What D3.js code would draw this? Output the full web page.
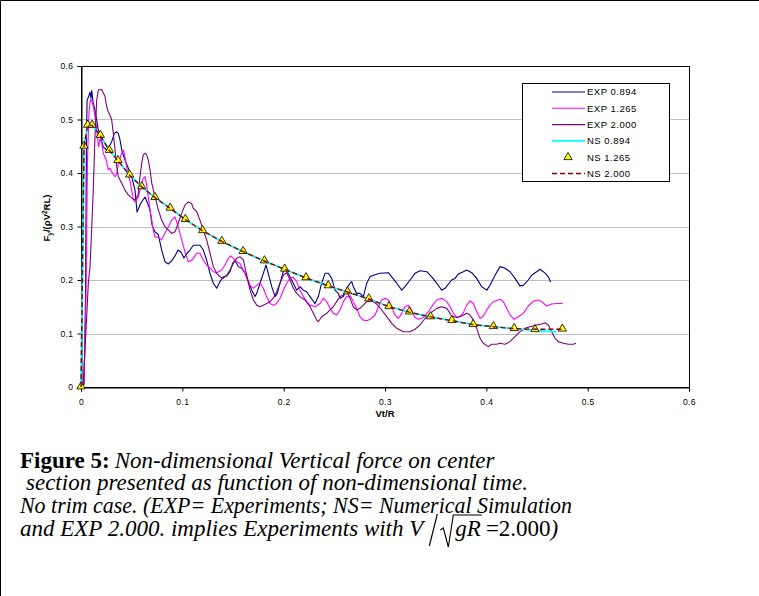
<!DOCTYPE html>
<html>
<head>
<meta charset="utf-8">
<script src="https://cdn.jsdelivr.net/npm/d3@7"></script>
<style>
body { margin: 0; background: #fff; }
svg { display: block; }
</style>
</head>
<body>
<script>
// values: [Vt/R, Fy/(rho V^2 R L)]
var xTicks = [0, 0.1, 0.2, 0.3, 0.4, 0.5, 0.6];
var yTicks = [0, 0.1, 0.2, 0.3, 0.4, 0.5, 0.6];
var gridTicks = [0.1, 0.2, 0.3, 0.4, 0.5];
var seriesNames = ["EXP 0.894", "EXP 1.265", "EXP 2.000", "NS 0.894", "NS 1.265", "NS 2.000"];

var exp0894 = [[0,0.002],[0.003,0.005],[0.0044,0.16],[0.0054,0.46],[0.006,0.536],[0.0074,0.542],[0.0089,0.551],[0.0099,0.540],[0.0106,0.554],[0.0121,0.530],[0.0138,0.518],[0.0155,0.499],[0.0171,0.480],[0.0197,0.465],[0.022,0.449],[0.0254,0.443],[0.0276,0.449],[0.0303,0.4585],[0.0329,0.474],[0.0352,0.477],[0.0368,0.474],[0.0385,0.462],[0.0402,0.443],[0.0434,0.424],[0.0467,0.409],[0.05,0.393],[0.0533,0.368],[0.0553,0.327],[0.0582,0.340],[0.0612,0.350],[0.0632,0.355],[0.0656,0.344],[0.0681,0.331],[0.0701,0.303],[0.073,0.29],[0.0763,0.285],[0.0796,0.256],[0.0829,0.234],[0.0862,0.23],[0.0895,0.236],[0.0928,0.245],[0.0957,0.256],[0.0987,0.252],[0.1016,0.241],[0.1046,0.25],[0.1076,0.256],[0.1108,0.265],[0.1174,0.265],[0.1207,0.256],[0.124,0.237],[0.1273,0.2125],[0.1306,0.194],[0.1339,0.1845],[0.1372,0.197],[0.1404,0.206],[0.1438,0.2075],[0.147,0.2155],[0.1497,0.231],[0.152,0.237],[0.1552,0.225],[0.1586,0.222],[0.1618,0.2125],[0.1651,0.197],[0.1685,0.181],[0.1717,0.169],[0.1734,0.175],[0.1767,0.194],[0.1799,0.2125],[0.1826,0.228],[0.1848,0.2125],[0.1882,0.1875],[0.1915,0.169],[0.1937,0.175],[0.1964,0.194],[0.1991,0.2125],[0.2013,0.222],[0.2036,0.2155],[0.2063,0.206],[0.2095,0.194],[0.2129,0.181],[0.2161,0.1875],[0.2194,0.181],[0.2227,0.178],[0.226,0.169],[0.2309,0.156],[0.2342,0.169],[0.2375,0.194],[0.2408,0.2125],[0.2441,0.2125],[0.2474,0.203],[0.2507,0.181],[0.2539,0.175],[0.2556,0.166],[0.2589,0.169],[0.2622,0.1845],[0.2655,0.194],[0.2672,0.197],[0.2687,0.1875],[0.2721,0.175],[0.2753,0.175],[0.2786,0.169],[0.282,0.194],[0.2852,0.206],[0.2885,0.209],[0.2951,0.2125],[0.3033,0.2136],[0.3066,0.206],[0.3116,0.194],[0.3165,0.181],[0.3197,0.1875],[0.3247,0.2],[0.3296,0.2125],[0.3346,0.2174],[0.3412,0.2155],[0.3461,0.206],[0.351,0.194],[0.356,0.181],[0.3592,0.1845],[0.3658,0.2],[0.3691,0.203],[0.3723,0.211],[0.3773,0.2155],[0.3806,0.2187],[0.3856,0.2136],[0.3905,0.203],[0.3954,0.1875],[0.4004,0.181],[0.4036,0.19],[0.4086,0.209],[0.4135,0.225],[0.4184,0.222],[0.4234,0.2155],[0.4283,0.203],[0.4332,0.189],[0.4365,0.19],[0.4414,0.2],[0.4448,0.209],[0.4497,0.2155],[0.453,0.22],[0.4562,0.2155],[0.4589,0.211],[0.4612,0.206],[0.4635,0.196]];

var exp1265 = [[0,0],[0.003,0.011],[0.0049,0.161],[0.0064,0.424],[0.0079,0.514],[0.0094,0.538],[0.0112,0.533],[0.0123,0.523],[0.0138,0.505],[0.0151,0.488],[0.0163,0.467],[0.0173,0.449],[0.0188,0.464],[0.0204,0.458],[0.022,0.437],[0.0237,0.43],[0.0254,0.421],[0.0269,0.406],[0.0286,0.409],[0.0303,0.402],[0.0319,0.398],[0.0336,0.393],[0.0352,0.398],[0.0368,0.417],[0.0385,0.428],[0.0402,0.437],[0.0417,0.443],[0.0434,0.43],[0.0451,0.411],[0.0467,0.396],[0.0484,0.385],[0.05,0.368],[0.0516,0.35],[0.0533,0.346],[0.0565,0.355],[0.0582,0.368],[0.0599,0.381],[0.0615,0.39],[0.0632,0.393],[0.0648,0.378],[0.0664,0.355],[0.0681,0.331],[0.0698,0.312],[0.0714,0.293],[0.073,0.28],[0.0763,0.28],[0.0796,0.275],[0.0829,0.288],[0.0862,0.299],[0.0895,0.312],[0.0928,0.318],[0.096,0.299],[0.0994,0.275],[0.1026,0.252],[0.1059,0.234],[0.1092,0.237],[0.1108,0.2405],[0.1141,0.25],[0.1174,0.25],[0.1207,0.237],[0.124,0.228],[0.1273,0.222],[0.1306,0.2155],[0.1339,0.2136],[0.1388,0.2187],[0.1421,0.228],[0.1454,0.2405],[0.1477,0.245],[0.1503,0.2405],[0.1536,0.234],[0.1569,0.231],[0.1602,0.2187],[0.1635,0.206],[0.1668,0.19],[0.1701,0.1845],[0.1734,0.19],[0.1767,0.195],[0.1799,0.1845],[0.1832,0.169],[0.1865,0.156],[0.1898,0.153],[0.1931,0.156],[0.1964,0.166],[0.1997,0.181],[0.2029,0.194],[0.2063,0.203],[0.2095,0.205],[0.2129,0.197],[0.2161,0.181],[0.2194,0.169],[0.2227,0.1595],[0.226,0.153],[0.2309,0.150],[0.2359,0.156],[0.2391,0.166],[0.2425,0.1595],[0.2457,0.147],[0.249,0.1377],[0.2523,0.1346],[0.2556,0.144],[0.2589,0.1595],[0.2622,0.169],[0.2661,0.17],[0.2687,0.1595],[0.2721,0.147],[0.2753,0.1314],[0.2786,0.125],[0.282,0.124],[0.2852,0.1265],[0.2902,0.1346],[0.2935,0.15],[0.2968,0.1626],[0.3,0.166],[0.3033,0.1626],[0.3066,0.15],[0.3099,0.1346],[0.3132,0.128],[0.3165,0.1377],[0.3197,0.15],[0.323,0.153],[0.3263,0.144],[0.3296,0.13],[0.3329,0.1265],[0.3379,0.13],[0.3428,0.1407],[0.3478,0.155],[0.3511,0.1626],[0.356,0.166],[0.361,0.1595],[0.3642,0.15],[0.3675,0.1377],[0.3708,0.13],[0.3741,0.1314],[0.3774,0.139],[0.3807,0.153],[0.3839,0.161],[0.3872,0.156],[0.3905,0.1407],[0.3938,0.128],[0.397,0.1327],[0.4004,0.144],[0.4036,0.153],[0.4069,0.1595],[0.4135,0.164],[0.4168,0.1595],[0.4201,0.147],[0.4234,0.1346],[0.4273,0.1265],[0.4316,0.1314],[0.4365,0.1377],[0.4414,0.1514],[0.4464,0.1607],[0.4513,0.1626],[0.4546,0.1595],[0.4596,0.1514],[0.4645,0.155],[0.4695,0.156],[0.4754,0.156]];

var exp2000 = [[0,0],[0.0022,0.007],[0.0039,0.069],[0.0056,0.131],[0.0072,0.194],[0.0089,0.225],[0.0105,0.293],[0.0121,0.368],[0.0138,0.468],[0.0155,0.536],[0.0171,0.555],[0.0204,0.556],[0.0237,0.543],[0.0254,0.524],[0.0269,0.5145],[0.0286,0.508],[0.0303,0.499],[0.0319,0.474],[0.0336,0.443],[0.0352,0.412],[0.0368,0.393],[0.0402,0.381],[0.0434,0.368],[0.0467,0.359],[0.05,0.353],[0.0533,0.3495],[0.0565,0.36],[0.0582,0.393],[0.0599,0.418],[0.0615,0.434],[0.0632,0.437],[0.0648,0.434],[0.0664,0.424],[0.0681,0.406],[0.0698,0.381],[0.073,0.356],[0.0763,0.331],[0.0796,0.312],[0.0829,0.2995],[0.0862,0.2935],[0.0895,0.287],[0.0928,0.29],[0.096,0.306],[0.0994,0.325],[0.1026,0.34],[0.1059,0.346],[0.1092,0.343],[0.1108,0.334],[0.1141,0.328],[0.1174,0.312],[0.1207,0.293],[0.124,0.275],[0.1273,0.25],[0.1306,0.225],[0.1339,0.2125],[0.1372,0.206],[0.1404,0.203],[0.1438,0.209],[0.147,0.2187],[0.1503,0.231],[0.1536,0.2405],[0.1569,0.2435],[0.1602,0.2375],[0.1635,0.209],[0.1668,0.181],[0.1701,0.1626],[0.1734,0.153],[0.1767,0.15],[0.1799,0.153],[0.1832,0.156],[0.1865,0.1595],[0.1898,0.166],[0.1931,0.178],[0.1964,0.194],[0.1997,0.209],[0.2029,0.2136],[0.2063,0.2],[0.2095,0.1845],[0.2129,0.175],[0.2161,0.169],[0.2211,0.1626],[0.226,0.15],[0.2293,0.1377],[0.2326,0.125],[0.2342,0.122],[0.2375,0.1314],[0.2425,0.1377],[0.2457,0.144],[0.249,0.15],[0.2523,0.1595],[0.2556,0.169],[0.2589,0.172],[0.2622,0.178],[0.2655,0.166],[0.2687,0.15],[0.2721,0.144],[0.2753,0.147],[0.2786,0.153],[0.282,0.1595],[0.2869,0.161],[0.2918,0.155],[0.2968,0.144],[0.3017,0.1314],[0.3066,0.119],[0.3116,0.1097],[0.3181,0.1034],[0.3247,0.1034],[0.3296,0.108],[0.3346,0.116],[0.3395,0.128],[0.3444,0.1377],[0.351,0.147],[0.356,0.15],[0.361,0.147],[0.3658,0.1327],[0.3708,0.13],[0.3757,0.1327],[0.3806,0.1377],[0.3839,0.1346],[0.3872,0.125],[0.3905,0.1097],[0.3938,0.091],[0.397,0.0817],[0.4019,0.0754],[0.4053,0.08],[0.4102,0.08],[0.4135,0.0817],[0.4184,0.08],[0.4234,0.0848],[0.4283,0.094],[0.4332,0.1034],[0.4382,0.1097],[0.4431,0.1127],[0.4497,0.116],[0.4546,0.1178],[0.4579,0.12],[0.4612,0.116],[0.4645,0.1034],[0.4678,0.091],[0.471,0.0848],[0.476,0.0817],[0.4809,0.08],[0.4858,0.08],[0.4885,0.0817]];

var ns0894 = [[0,0],[0.003,0.45],[0.0065,0.489],[0.011,0.489],[0.019,0.47],[0.028,0.442],[0.0365,0.423],[0.048,0.396],[0.06,0.374],[0.073,0.354],[0.088,0.334],[0.103,0.313],[0.12,0.292],[0.139,0.272],[0.16,0.253],[0.181,0.2355],[0.201,0.22],[0.222,0.204],[0.244,0.189],[0.263,0.1776],[0.284,0.1645],[0.304,0.15],[0.324,0.14],[0.345,0.131],[0.366,0.124],[0.387,0.1165],[0.407,0.1127],[0.4275,0.109],[0.448,0.106],[0.469,0.103]];

var ns1265 = [[0,0],[0.003,0.45],[0.0065,0.489],[0.011,0.489],[0.019,0.47],[0.028,0.442],[0.0365,0.423],[0.048,0.396],[0.06,0.374],[0.073,0.354],[0.088,0.334],[0.103,0.313],[0.12,0.292],[0.139,0.272],[0.16,0.253],[0.181,0.2355],[0.201,0.22],[0.222,0.204],[0.244,0.189],[0.263,0.1776],[0.284,0.1645],[0.304,0.15],[0.324,0.14],[0.345,0.131],[0.366,0.124],[0.387,0.1165],[0.407,0.1127],[0.4275,0.109],[0.448,0.107],[0.475,0.108]];

var ns2000 = [[0,0],[0.002,0.3],[0.003,0.45],[0.0065,0.489],[0.011,0.489],[0.019,0.47],[0.028,0.442],[0.0365,0.423],[0.048,0.396],[0.06,0.374],[0.073,0.354],[0.088,0.334],[0.103,0.313],[0.12,0.292],[0.139,0.272],[0.16,0.253],[0.181,0.2355],[0.201,0.22],[0.222,0.204],[0.244,0.189],[0.263,0.1776],[0.284,0.1645],[0.304,0.15],[0.324,0.14],[0.345,0.131],[0.366,0.124],[0.387,0.1165],[0.407,0.1127],[0.4275,0.109],[0.448,0.108],[0.475,0.108]];

var svg = d3.select("body").append("svg").attr("width", 759).attr("height", 596),
    margin = {top: 66, right: 70, bottom: 209, left: 81},
    width = 759 - margin.left - margin.right,
    height = 596 - margin.top - margin.bottom,
    g = svg.append("g").attr("transform", "translate(" + margin.left + "," + margin.top + ")");

svg.append("rect").attr("width", 759).attr("height", 596).attr("fill", "#fff").lower();

// outer frame of the figure box
svg.append("path")
    .attr("d", "M0.5,596V0.5H759")
    .attr("fill", "none")
    .attr("stroke", "#000");

var x = d3.scaleLinear().domain([0, 0.6]).range([0, width]);
var y = d3.scaleLinear().domain([0, 0.6]).range([height, 0]);

var font = "'Liberation Sans', Arial, sans-serif";

// horizontal gridlines
g.append("g")
  .selectAll("line")
  .data(gridTicks)
  .enter().append("line")
    .attr("x1", 0)
    .attr("x2", width)
    .attr("y1", function(d) { return Math.round(y(d)) + 0.5; })
    .attr("y2", function(d) { return Math.round(y(d)) + 0.5; })
    .attr("stroke", "#c0c0c0")
    .attr("stroke-width", 1.2);

// plot area border
g.append("rect")
    .attr("x", 0.5).attr("y", 0.5)
    .attr("width", width).attr("height", height)
    .attr("fill", "none")
    .attr("stroke", "#000");

var xAxis = g.append("g")
    .attr("transform", "translate(0," + (height + 0.5) + ")")
    .call(d3.axisBottom(x).tickValues(xTicks).tickSize(4).tickPadding(7).tickFormat(d3.format("")));
var yAxis = g.append("g")
    .attr("transform", "translate(0.5,0)")
    .call(d3.axisLeft(y).tickValues(yTicks).tickSize(4).tickPadding(4).tickFormat(d3.format("")));

[xAxis, yAxis].forEach(function(a) {
  a.select(".domain").attr("stroke", "#000");
  a.selectAll(".tick line").attr("stroke", "#000");
  a.selectAll("text")
    .attr("font-family", font)
    .attr("font-size", 8.5)
    .attr("letter-spacing", 0.4)
    .attr("fill", "#000");
});

// axis titles
g.append("text")
    .attr("x", x(0.3))
    .attr("y", height + 30)
    .attr("text-anchor", "middle")
    .attr("font-family", font)
    .attr("font-size", 9.5)
    .attr("font-weight", "bold")
    .text("Vt/R");

var yTitle = svg.append("text")
    .attr("transform", "translate(50,218) rotate(-90)")
    .attr("text-anchor", "middle")
    .attr("font-family", font)
    .attr("font-size", 9.5)
    .attr("font-weight", "bold");
yTitle.append("tspan").text("F");
yTitle.append("tspan").attr("dy", 2).attr("font-size", 6.5).text("y");
yTitle.append("tspan").attr("dy", -2).text("/(ρV");
yTitle.append("tspan").attr("dy", -3.5).attr("font-size", 6.5).text("2");
yTitle.append("tspan").attr("dy", 3.5).text("RL)");

var line = d3.line()
    .x(function(d) { return x(d[0]); })
    .y(function(d) { return y(d[1]); });

var plot = g.append("g");

var lineSeries = [
  {data: exp0894, color: "#000080", width: 1.1},
  {data: exp1265, color: "#ff00ff", width: 1.1},
  {data: exp2000, color: "#800080", width: 1.1},
  {data: ns0894, color: "#00ffff", width: 1.8}
];

plot.selectAll("path.series")
  .data(lineSeries)
  .enter().append("path")
    .attr("class", "series")
    .attr("d", function(d) { return line(d.data); })
    .attr("fill", "none")
    .attr("stroke", function(d) { return d.color; })
    .attr("stroke-width", function(d) { return d.width; })
    .attr("stroke-linejoin", "round");

var tri = d3.symbol().type(d3.symbolTriangle).size(30);

plot.append("g")
  .selectAll("path")
  .data(ns1265)
  .enter().append("path")
    .attr("d", tri)
    .attr("transform", function(d) { return "translate(" + x(d[0]) + "," + (y(d[1]) - 0.5) + ")"; })
    .attr("fill", "#ffff00")
    .attr("stroke", "#000")
    .attr("stroke-width", 0.8);

plot.append("path")
    .attr("d", line(ns2000))
    .attr("fill", "none")
    .attr("stroke", "#8b0000")
    .attr("stroke-width", 1.4)
    .attr("stroke-dasharray", "5,3");

// legend
var legend = svg.append("g").attr("transform", "translate(522,83)");
legend.append("rect")
    .attr("x", 0.5).attr("y", 0.5)
    .attr("width", 147).attr("height", 98)
    .attr("fill", "#fff")
    .attr("stroke", "#000");

var legendStyle = [
  {color: "#000080", type: "line", dash: null, width: 1.1},
  {color: "#ff00ff", type: "line", dash: null, width: 1.1},
  {color: "#800080", type: "line", dash: null, width: 1.1},
  {color: "#00ffff", type: "line", dash: null, width: 1.8},
  {color: "#ffff00", type: "marker", dash: null, width: 1},
  {color: "#8b0000", type: "line", dash: "5,3", width: 1.4}
];

var entry = legend.selectAll("g.entry")
  .data(seriesNames)
  .enter().append("g")
    .attr("class", "entry")
    .attr("transform", function(d, i) { return "translate(0," + (9 + i * 16.3) + ")"; });

entry.each(function(d, i) {
  var s = legendStyle[i], e = d3.select(this);
  if (s.type === "line") {
    e.append("line")
      .attr("x1", 30).attr("x2", 63)
      .attr("y1", 0).attr("y2", 0)
      .attr("stroke", s.color)
      .attr("stroke-width", s.width)
      .attr("stroke-dasharray", s.dash);
  } else {
    e.append("path")
      .attr("d", tri)
      .attr("transform", "translate(46,0)")
      .attr("fill", s.color)
      .attr("stroke", "#000")
      .attr("stroke-width", 0.8);
  }
});

entry.append("text")
    .attr("x", 65)
    .attr("dy", "0.35em")
    .attr("font-family", font)
    .attr("font-size", 9.5)
    .attr("letter-spacing", 0.5)
    .text(function(d) { return d; });

// caption
var cap = svg.append("g")
    .attr("font-family", "'Liberation Serif', 'Times New Roman', serif")
    .attr("font-size", 23);

var l1 = cap.append("text").attr("x", 20).attr("y", 468);
l1.append("tspan").attr("font-weight", "bold").text("Figure 5:");
l1.append("tspan").attr("font-style", "italic").attr("dx", 5).text("Non-dimensional Vertical force on center");

cap.append("text").attr("x", 26).attr("y", 490).attr("font-style", "italic")
    .text("section presented as function of non-dimensional time.");
cap.append("text").attr("x", 20).attr("y", 513).attr("font-style", "italic")
    .attr("textLength", 552).attr("lengthAdjust", "spacingAndGlyphs")
    .text("No trim case. (EXP= Experiments; NS= Numerical Simulation");

var l4 = cap.append("text").attr("x", 20).attr("y", 536).attr("font-style", "italic")
    .text("and EXP 2.000. implies Experiments with V");
var x4 = 20 + l4.node().getComputedTextLength();

// V / sqrt(gR)
cap.append("path")
    .attr("d", "M" + (x4 + 6) + ",546L" + (x4 + 14) + ",514")
    .attr("stroke", "#000").attr("stroke-width", 1.1).attr("fill", "none");
var gR = cap.append("text").attr("x", x4 + 32).attr("y", 536).attr("font-style", "italic").text("gR");
var gRw = gR.node().getComputedTextLength();
cap.append("path")
    .attr("d", "M" + (x4 + 17) + ",530L" + (x4 + 20) + ",528L" + (x4 + 25) + ",547L" + (x4 + 30) + ",515H" + (x4 + 33 + gRw))
    .attr("stroke", "#000").attr("stroke-width", 1.1).attr("fill", "none");
var eq = cap.append("text").attr("x", x4 + 37 + gRw).attr("y", 536);
eq.append("tspan").text("=2.000");
eq.append("tspan").attr("font-style", "italic").text(")");
</script>
</body>
</html>
